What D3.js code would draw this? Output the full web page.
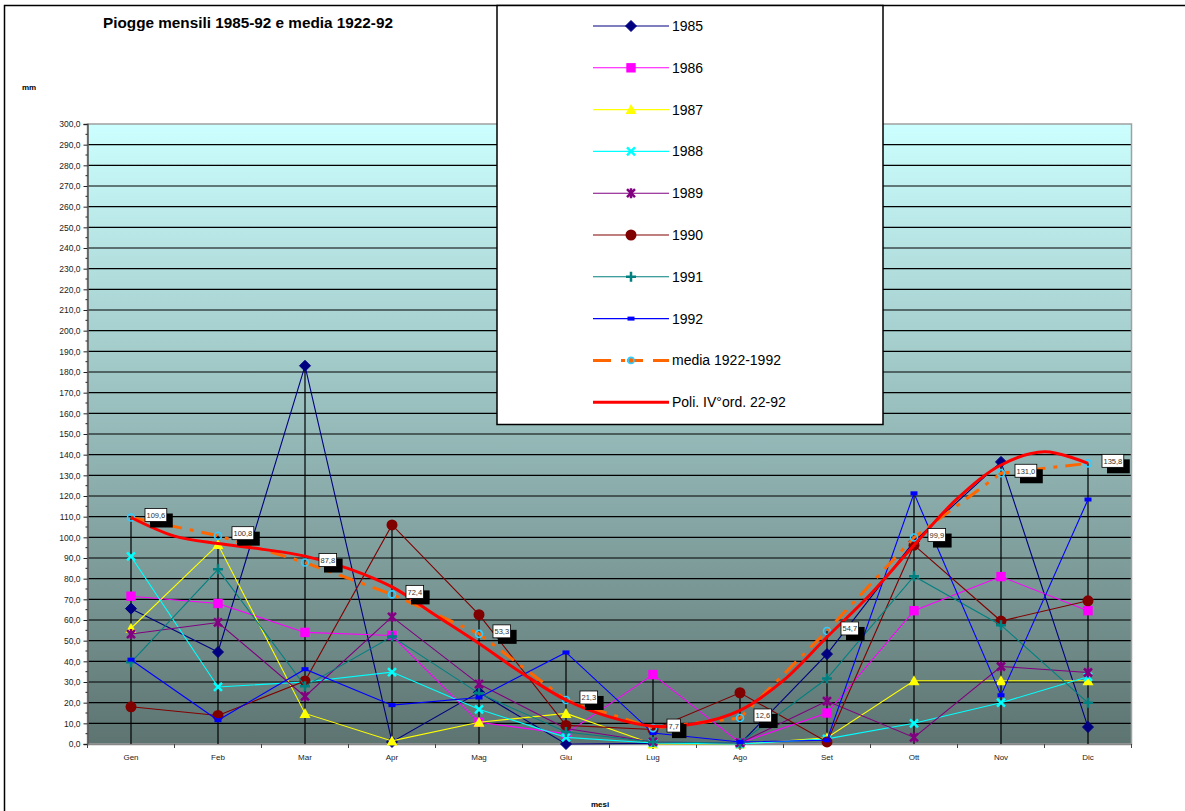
<!DOCTYPE html>
<html>
<head>
<meta charset="utf-8">
<script src="https://cdn.jsdelivr.net/npm/d3@7/dist/d3.min.js"></script>
<style>
  html, body { margin: 0; padding: 0; background: #fff; }
  svg { display: block; font-family: Arial, "Liberation Sans", sans-serif; }
</style>
</head>
<body>
<svg id="chart" width="1185" height="811"></svg>
<script>
// Monthly rainfall (mm), 1985-1992, plus the 1922-1992 average
const months = ["Gen","Feb","Mar","Apr","Mag","Giu","Lug","Ago","Set","Ott","Nov","Dic"];
const y1985 = [65.5, 44.5, 183.0, 1.0, 25.0, 0.0, 0.3, 0.0, 43.5, 98.0, 136.5, 8.2];
const y1986 = [71.5, 68.0, 54.0, 52.5, 10.5, 5.0, 33.6, 0.5, 15.0, 64.5, 81.0, 64.5];
const y1987 = [56.0, 96.5, 14.8, 1.5, 10.5, 14.8, 0.0, 0.0, 3.0, 30.6, 30.6, 30.6];
const y1988 = [90.8, 27.6, 30.0, 34.8, 16.8, 3.2, 0.5, 0.0, 2.5, 10.0, 20.0, 32.5];
const y1989 = [53.2, 58.8, 23.0, 61.5, 29.0, 7.5, 1.0, 0.5, 20.8, 3.2, 37.5, 34.6];
const y1990 = [18.0, 13.8, 30.5, 106.0, 62.6, 9.0, 7.0, 24.8, 1.0, 96.2, 59.5, 69.3];
const y1991 = [39.5, 84.5, 28.0, 52.0, 24.5, 5.8, 1.0, 0.5, 31.7, 81.2, 57.5, 19.9];
const y1992 = [40.8, 11.5, 36.2, 18.8, 22.5, 44.3, 5.3, 1.0, 1.8, 121.3, 23.6, 118.3];
const media = [109.6, 100.8, 87.8, 72.4, 53.3, 21.3, 7.7, 12.6, 54.7, 99.9, 131.0, 135.8];
// 4th-order polynomial trend of 1922-92, sampled every half month (0 = Gen ... 11 = Dic)
const trendSteps = d3.range(0, 11.01, 0.5);
const trendValues = [109.6, 100.6, 97.0, 94.3, 90.9, 84.9, 76.0, 62.3, 48.6, 34.1, 21.3, 13.1,
                     8.6, 9.9, 16.3, 30.8, 51.8, 72.5, 96.2, 118.8, 135.0, 141.4, 135.8];
const yTicks = d3.range(0, 301, 10);

const seriesList = [
  { name: "1985", values: y1985, color: "#000080", marker: "diamond" },
  { name: "1986", values: y1986, color: "#FF00FF", marker: "square" },
  { name: "1987", values: y1987, color: "#FFFF00", marker: "triangle" },
  { name: "1988", values: y1988, color: "#00FFFF", marker: "x" },
  { name: "1989", values: y1989, color: "#800080", marker: "star" },
  { name: "1990", values: y1990, color: "#800000", marker: "circle" },
  { name: "1991", values: y1991, color: "#008080", marker: "plus" },
  { name: "1992", values: y1992, color: "#0000FF", marker: "dash" }
];

const svg = d3.select("#chart");
const plot = { left: 87.5, right: 1131.5, top: 124, bottom: 744 };

const x = d3.scaleBand().domain(months).range([plot.left, plot.right]);
const xc = m => x(m) + x.bandwidth() / 2;
const xIdx = d3.scaleLinear().domain([0, 11]).range([xc(months[0]), xc(months[11])]);
const y = d3.scaleLinear().domain([0, 300]).range([plot.bottom, plot.top]);
const fmt = v => d3.format(".1f")(v).replace(".", ",");

// Plot background gradient
const defs = svg.append("defs");
const grad = defs.append("linearGradient").attr("id", "bg").attr("x1", 0).attr("y1", 0).attr("x2", 0).attr("y2", 1);
grad.append("stop").attr("offset", "0%").attr("stop-color", "#CCFFFF");
grad.append("stop").attr("offset", "100%").attr("stop-color", "#5D7471");

// Outer chart frame
svg.append("rect").attr("x", 4.5).attr("y", 5.5).attr("width", 1400).attr("height", 1000)
  .attr("fill", "#fff").attr("stroke", "#000").attr("stroke-width", 1.5);

svg.append("rect")
  .attr("x", plot.left).attr("y", plot.top)
  .attr("width", plot.right - plot.left).attr("height", plot.bottom - plot.top)
  .attr("fill", "url(#bg)");

// Horizontal gridlines
svg.append("g").selectAll("line").data(yTicks.filter(t => t > 0 && t < 300)).join("line")
  .attr("x1", plot.left).attr("x2", plot.right)
  .attr("y1", d => y(d)).attr("y2", d => y(d))
  .attr("stroke", "#000").attr("stroke-width", 1.2);

// Plot frame
svg.append("rect")
  .attr("x", plot.left).attr("y", plot.top)
  .attr("width", plot.right - plot.left).attr("height", plot.bottom - plot.top)
  .attr("fill", "none").attr("stroke", "#A0A0A0").attr("stroke-width", 1.5);

// Y axis with major and minor ticks
const yAxis = d3.axisLeft(y).tickValues(yTicks).tickFormat(fmt).tickSize(4).tickPadding(3);
const gy = svg.append("g").attr("transform", `translate(${plot.left},0)`).call(yAxis);
gy.select(".domain").attr("stroke", "#555").attr("stroke-width", 1.5);
gy.selectAll(".tick line").attr("stroke", "#222");
gy.selectAll(".tick text").attr("font-size", "8.5px").attr("fill", "#222")
  .attr("font-family", "Arial, 'Liberation Sans', sans-serif");
svg.append("g").selectAll("line").data(d3.range(5, 300, 10)).join("line")
  .attr("x1", plot.left - 2).attr("x2", plot.left)
  .attr("y1", d => y(d)).attr("y2", d => y(d))
  .attr("stroke", "#222").attr("stroke-width", 1);

// X axis: ticks at month boundaries, labels centred
const gx = svg.append("g").attr("transform", `translate(0,${plot.bottom})`)
  .call(d3.axisBottom(x).tickSize(0).tickPadding(10));
gx.select(".domain").attr("stroke", "#888").attr("stroke-width", 1.5);
gx.selectAll(".tick text").attr("font-size", "8px").attr("fill", "#222")
  .attr("font-family", "Arial, 'Liberation Sans', sans-serif");
svg.append("g").selectAll("line").data(d3.range(0, 13)).join("line")
  .attr("x1", i => plot.left + i * x.bandwidth()).attr("x2", i => plot.left + i * x.bandwidth())
  .attr("y1", plot.bottom).attr("y2", plot.bottom + 4)
  .attr("stroke", "#444").attr("stroke-width", 1);

// Drop lines from the highest value of each month to the axis
svg.append("g").selectAll("line").data(months).join("line")
  .attr("x1", d => xc(d)).attr("x2", d => xc(d))
  .attr("y1", (d, i) => y(d3.max([...seriesList.map(s => s.values[i]), media[i]])))
  .attr("y2", plot.bottom)
  .attr("stroke", "#000").attr("stroke-width", 1.2);

// Marker shapes
function drawMarker(g, type, color) {
  switch (type) {
    case "diamond":
      g.append("path").attr("d", "M0,-5.5L5.5,0L0,5.5L-5.5,0Z").attr("fill", color).attr("stroke", color); break;
    case "square":
      g.append("rect").attr("x", -4.7).attr("y", -4.7).attr("width", 9.4).attr("height", 9.4).attr("fill", color); break;
    case "triangle":
      g.append("path").attr("d", "M0,-5.5L5.5,4.5L-5.5,4.5Z").attr("fill", color); break;
    case "x":
      g.append("path").attr("d", "M-4,-4L4,4M4,-4L-4,4").attr("stroke", color).attr("stroke-width", 2.5).attr("fill", "none"); break;
    case "star":
      g.append("path").attr("d", "M-4,-4L4,4M4,-4L-4,4M0,-5L0,5").attr("stroke", color).attr("stroke-width", 2.5).attr("fill", "none"); break;
    case "circle":
      g.append("circle").attr("r", 5.5).attr("fill", color); break;
    case "plus":
      g.append("path").attr("d", "M-5,0L5,0M0,-5L0,5").attr("stroke", color).attr("stroke-width", 2.5).attr("fill", "none"); break;
    case "dash":
      g.append("rect").attr("x", -3.5).attr("y", -2).attr("width", 7).attr("height", 4).attr("fill", color); break;
  }
}

const line = d3.line().x((d, i) => xc(months[i])).y(d => y(d));

// Yearly series
seriesList.forEach(s => {
  const g = svg.append("g");
  g.append("path").datum(s.values).attr("d", line)
    .attr("fill", "none").attr("stroke", s.color).attr("stroke-width", 1.1);
  s.values.forEach((v, i) => {
    const mg = g.append("g").attr("transform", `translate(${xc(months[i])},${y(v)})`);
    drawMarker(mg, s.marker, s.color);
  });
});

// Long-term average
const gm = svg.append("g");
gm.append("path").datum(media).attr("d", line)
  .attr("fill", "none").attr("stroke", "#FF6600").attr("stroke-width", 3)
  .attr("stroke-dasharray", "16,8,4,8");
gm.selectAll("circle").data(media).join("circle")
  .attr("cx", (d, i) => xc(months[i])).attr("cy", d => y(d)).attr("r", 3.5)
  .attr("fill", "none").attr("stroke", "#33CCFF").attr("stroke-width", 1.6);

// Polynomial trend curve
const trendLine = d3.line()
  .x((d, i) => xIdx(trendSteps[i])).y(d => y(d))
  .curve(d3.curveCatmullRom.alpha(0.5));
svg.append("path").datum(trendValues).attr("d", trendLine)
  .attr("fill", "none").attr("stroke", "#FF0000").attr("stroke-width", 3);

// Value labels for the average, boxed with a drop shadow
const gl = svg.append("g");
media.forEach((v, i) => {
  const px = xc(months[i]) + 14, py = y(v) - 9;
  const lg = gl.append("g").attr("transform", `translate(${px},${py})`);
  const shadow = lg.append("rect").attr("fill", "#000");
  const box = lg.append("rect").attr("fill", "#fff").attr("stroke", "#000").attr("stroke-width", 0.8);
  const t = lg.append("text").text(fmt(v)).attr("x", 1.5).attr("y", 9.5)
    .attr("font-size", "7.5px").attr("fill", "#333");
  const w = t.node().getComputedTextLength() + 3;
  box.attr("width", w).attr("height", 13);
  shadow.attr("x", 5).attr("y", 5).attr("width", w + 1).attr("height", 14);
});

// Titles
svg.append("text").attr("x", 248).attr("y", 28).attr("text-anchor", "middle")
  .attr("font-size", "15.3px").attr("font-weight", "bold").text("Piogge mensili 1985-92 e media 1922-92");
svg.append("text").attr("x", 22).attr("y", 90).attr("font-size", "8px").attr("font-weight", "bold").text("mm");
svg.append("text").attr("x", 600).attr("y", 807).attr("text-anchor", "middle")
  .attr("font-size", "8px").attr("font-weight", "bold").text("mesi");

// Legend
const legendItems = seriesList.map(s => ({ name: s.name, color: s.color, marker: s.marker }))
  .concat([{ name: "media 1922-1992", kind: "media" }, { name: "Poli. IV°ord. 22-92", kind: "poly" }]);
const lgd = svg.append("g");
lgd.append("rect").attr("x", 497).attr("y", 5.5).attr("width", 386).attr("height", 419)
  .attr("fill", "#fff").attr("stroke", "#000").attr("stroke-width", 1.5);
legendItems.forEach((it, i) => {
  const ly = 26 + i * 41.8;
  const g = lgd.append("g");
  if (it.kind === "media") {
    g.append("line").attr("x1", 593).attr("x2", 669).attr("y1", ly).attr("y2", ly)
      .attr("stroke", "#FF6600").attr("stroke-width", 3).attr("stroke-dasharray", "18,10,4,2,16,10");
    g.append("circle").attr("cx", 631).attr("cy", ly).attr("r", 3)
      .attr("fill", "#FF6600").attr("stroke", "#33CCFF").attr("stroke-width", 1.6);
  } else if (it.kind === "poly") {
    g.append("line").attr("x1", 593).attr("x2", 669).attr("y1", ly).attr("y2", ly)
      .attr("stroke", "#FF0000").attr("stroke-width", 3);
  } else {
    g.append("line").attr("x1", 593).attr("x2", 669).attr("y1", ly).attr("y2", ly)
      .attr("stroke", it.color).attr("stroke-width", 1.1);
    drawMarker(g.append("g").attr("transform", `translate(631,${ly})`), it.marker, it.color);
  }
  g.append("text").attr("x", 672).attr("y", ly + 5).attr("font-size", "14px").attr("fill", "#000").text(it.name);
});
</script>
</body>
</html>
